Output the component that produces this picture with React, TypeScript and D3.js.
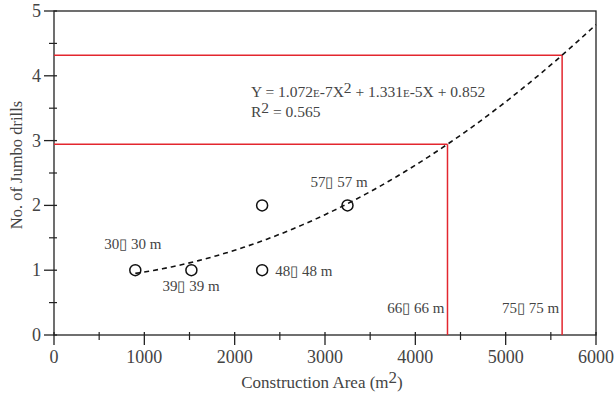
import * as d3 from 'd3';
import React from 'react';

// construction area (m2) vs number of jumbo drills
const sides = [30, 39, 48, 48, 57];
const drills = [1, 1, 1, 2, 2];
const pointLabels = ["30\u25AF  30 m", "39\u25AF  39 m", "48\u25AF  48 m", "", "57\u25AF  57 m"];
const designSides = [66, 75];
const xTicks = [0, 1000, 2000, 3000, 4000, 5000, 6000];
const yTicks = [0, 1, 2, 3, 4, 5];
const coef = [1.072e-7, 1.331e-5, 0.852];

const fit = (x: number) => coef[0] * x * x + coef[1] * x + coef[2];

const width = 616;
const height = 393;
const margin = { left: 54, right: 20, top: 11, bottom: 58 };

export default function App() {
  const x = d3.scaleLinear().domain([0, 6000]).range([margin.left, width - margin.right]);
  const y = d3.scaleLinear().domain([0, 5]).range([height - margin.bottom, margin.top]);

  const curveX = d3.range(900, 6001, 50);
  const line = d3.line<number>().x(d => x(d)).y(d => y(fit(d)));

  const minorX = d3.range(500, 6000, 1000);
  const minorY = d3.range(0.5, 5, 1);
  const tf = { fontFamily: "'Liberation Serif', 'Times New Roman', Times, serif" };
  const textColor = "#444";

  return (
    <svg width={width} height={height} style={{ position: 'absolute', left: 0, top: 0 }}>
      <rect x={x(0)} y={y(5)} width={x(6000) - x(0)} height={y(0) - y(5)} fill="none" stroke="#222" strokeWidth={1.3} />

      {/* red design lines */}
      {designSides.map(s => {
        const a = s * s;
        return (
          <g key={s}>
            <line x1={x(0)} x2={x(a)} y1={y(fit(a))} y2={y(fit(a))} stroke="#e3262e" strokeWidth={1.5} />
            <line x1={x(a)} x2={x(a)} y1={y(fit(a))} y2={y(0)} stroke="#e3262e" strokeWidth={1.5} />
            <text x={x(a) - 3} y={y(0) - 22} textAnchor="end" fontSize={15} style={tf} fill={textColor}>
              {s + "\u25AF  " + s + " m"}
            </text>
          </g>
        );
      })}

      <path d={line(curveX) || ''} fill="none" stroke="#111" strokeWidth={1.6} strokeDasharray="5,4" />

      {sides.map((s, i) => (
        <circle key={i} cx={x(s * s)} cy={y(drills[i])} r={5.5} fill="none" stroke="#111" strokeWidth={1.5} />
      ))}

      {/* point labels */}
      <text x={x(900) - 31} y={y(1) - 21} fontSize={15} style={tf} fill={textColor}>{pointLabels[0]}</text>
      <text x={x(1521) - 29} y={y(1) + 21} fontSize={15} style={tf} fill={textColor}>{pointLabels[1]}</text>
      <text x={x(2304) + 13} y={y(1) + 6} fontSize={15} style={tf} fill={textColor}>{pointLabels[2]}</text>
      <text x={x(3249) - 37} y={y(2) - 18} fontSize={15} style={tf} fill={textColor}>{pointLabels[4]}</text>

      {/* equation */}
      <text x={251} y={97} fontSize={15.5} style={tf} fill={textColor}>
        Y = 1.072<tspan fontSize={11}>E</tspan>-7X<tspan fontSize={15.5} dy={-4}>2</tspan>
        <tspan dy={4}> + 1.331</tspan><tspan fontSize={11}>E</tspan>-5X + 0.852
      </text>
      <text x={251} y={117} fontSize={15.5} style={tf} fill={textColor}>
        R<tspan fontSize={15.5} dy={-4}>2</tspan><tspan dy={4}> = 0.565</tspan>
      </text>

      {/* x axis ticks */}
      {xTicks.map(t => (
        <g key={t}>
          <line x1={x(t)} x2={x(t)} y1={y(0) - 3} y2={y(0) + 10} stroke="#222" strokeWidth={1.3} />
          <text x={x(t)} y={y(0) + 28} textAnchor="middle" fontSize={18} style={tf} fill={textColor}>{t}</text>
        </g>
      ))}
      {minorX.map(t => (
        <line key={t} x1={x(t)} x2={x(t)} y1={y(0) - 3} y2={y(0) + 5} stroke="#222" strokeWidth={1.2} />
      ))}

      {/* y axis ticks */}
      {yTicks.map(t => (
        <g key={t}>
          <line x1={x(0) - 10} x2={x(0) + 3} y1={y(t)} y2={y(t)} stroke="#222" strokeWidth={1.3} />
          <text x={x(0) - 13} y={y(t) + 6} textAnchor="end" fontSize={18} style={tf} fill={textColor}>{t}</text>
        </g>
      ))}
      {minorY.map(t => (
        <line key={t} x1={x(0) - 5} x2={x(0) + 3} y1={y(t)} y2={y(t)} stroke="#222" strokeWidth={1.2} />
      ))}

      <text x={x(3000) - 3} y={388} textAnchor="middle" fontSize={17} style={tf} fill={textColor}>
        Construction Area (m<tspan fontSize={17} dy={-5}>2</tspan><tspan dy={5}>)</tspan>
      </text>
      <text transform={`translate(22, 165) rotate(-90)`} textAnchor="middle" fontSize={16.5} style={tf} fill={textColor}>
        No. of Jumbo drills
      </text>
    </svg>
  );
}
